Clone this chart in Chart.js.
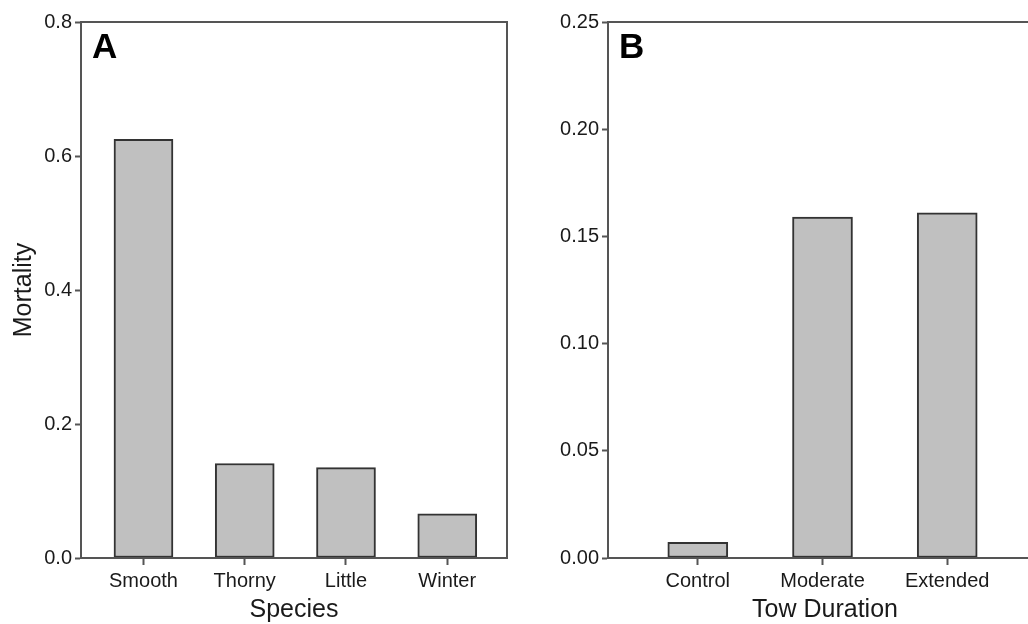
<!DOCTYPE html>
<html>
<head>
  <title>Mortality by species and tow duration</title>
  <style>
    body {
      margin: 0;
      background: #fff;
    }
    #wrap {
      position: relative;
      width: 1028px;
      height: 624px;
      overflow: hidden;
    }
    #panelA, #panelB {
      position: absolute;
      top: 0;
    }
    #panelA { left: 0; }
    #panelB { left: 520px; }
  </style>
</head>
<body>
  <div id="wrap">
    <canvas id="panelA" width="520" height="624"></canvas>
    <canvas id="panelB" width="560" height="624"></canvas>
  </div>

  <script src="https://cdn.jsdelivr.net/npm/chart.js"></script>
  <script>
    // Panel A - mortality by species
    const species = ["Smooth", "Thorny", "Little", "Winter"];
    const speciesMortality = [0.625, 0.141, 0.135, 0.066];
    const speciesTicks = [0, 0.2, 0.4, 0.6, 0.8];

    // Panel B - mortality by tow duration
    const towDurations = ["Control", "Moderate", "Extended"];
    const towMortality = [0.0073, 0.159, 0.161];
    const towTicks = [0, 0.05, 0.10, 0.15, 0.20, 0.25];

    const FONT = "'Liberation Sans', Arial, sans-serif";
    const TEXT = '#1a1a1a';
    const AXIS = '#555';

    // frame around the plot area + the panel letter
    const framePlugin = {
      id: 'frame',
      afterDraw(chart, args, opts) {
        const a = chart.chartArea;
        const c = chart.ctx;
        c.save();
        c.strokeStyle = AXIS;
        c.lineWidth = 2;
        c.strokeRect(a.left, a.top, a.right - a.left, a.bottom - a.top);
        c.fillStyle = '#000';
        c.font = 'bold 35px ' + FONT;
        c.textBaseline = 'alphabetic';
        c.fillText(opts.letter, a.left + 11, a.top + 36);
        c.restore();
      }
    };

    function makePanel(id, cats, values, yTicks, decimals, opt) {
      return new Chart(document.getElementById(id), {
        type: 'bar',
        data: {
          datasets: [{
            data: cats.map((c, i) => ({ x: i, y: values[i] })),
            backgroundColor: '#c0c0c0',
            borderColor: '#333',
            borderWidth: 2,
            borderSkipped: false,
            barThickness: opt.barWidth
          }]
        },
        options: {
          responsive: false,
          animation: false,
          layout: { padding: { top: 22, right: opt.padRight, left: 0, bottom: 0 } },
          plugins: {
            legend: { display: false },
            tooltip: { enabled: false },
            frame: { letter: opt.letter }
          },
          scales: {
            x: {
              type: 'linear',
              offset: false,
              min: opt.xMin,
              max: opt.xMax,
              afterBuildTicks: s => { s.ticks = cats.map((c, i) => ({ value: i })); },
              afterFit: s => { s.height = 66; },
              grid: { offset: false, drawOnChartArea: false, tickLength: 7, tickColor: AXIS, tickWidth: 2 },
              border: { color: AXIS, width: 2 },
              ticks: {
                padding: 4,
                color: TEXT,
                font: { family: FONT, size: 20 },
                callback: v => cats[v]
              },
              title: {
                display: true,
                text: opt.xTitle,
                color: TEXT,
                font: { family: FONT, size: 25, lineHeight: 1.1 },
                padding: { top: 0, bottom: 0 }
              }
            },
            y: {
              min: 0,
              max: yTicks[yTicks.length - 1],
              afterBuildTicks: s => { s.ticks = yTicks.map(v => ({ value: v })); },
              afterFit: s => { s.width = opt.yWidth; },
              grid: { drawOnChartArea: false, tickLength: 6, tickColor: AXIS, tickWidth: 2 },
              border: { color: AXIS, width: 2 },
              ticks: {
                padding: 3,
                color: TEXT,
                font: { family: FONT, size: 20 },
                callback: v => Number(v).toFixed(decimals)
              },
              title: {
                display: !!opt.yTitle,
                text: opt.yTitle || '',
                color: TEXT,
                font: { family: FONT, size: 25 },
                padding: { top: 9, bottom: 0 }
              }
            }
          }
        },
        plugins: [framePlugin]
      });
    }

    makePanel('panelA', species, speciesMortality, speciesTicks, 1, {
      letter: 'A', xTitle: 'Species', yTitle: 'Mortality',
      xMin: -0.617, xMax: 3.59, barWidth: 59, yWidth: 81, padRight: 13
    });

    makePanel('panelB', towDurations, towMortality, towTicks, 2, {
      letter: 'B', xTitle: 'Tow Duration', yTitle: null,
      xMin: -0.72, xMax: 2.76, barWidth: 60, yWidth: 88, padRight: 38
    });
  </script>
</body>
</html>
